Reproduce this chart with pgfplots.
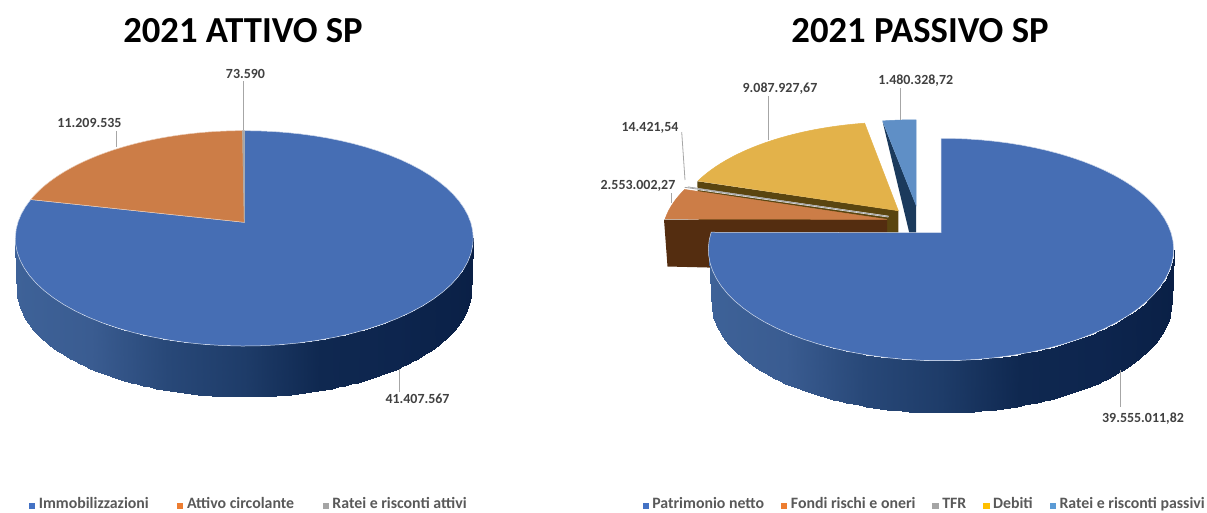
\documentclass[border=0pt]{standalone}
\usepackage{fontspec}
\setmainfont{Carlito}
\usepackage{pgfplots}
\pgfplotsset{compat=1.18}
\definecolor{pBlue}{HTML}{466EB4}
\definecolor{pOrange}{HTML}{CC7D47}
\definecolor{pGray}{HTML}{A5A5A5}
\definecolor{pYellow}{HTML}{E3B24A}
\definecolor{pLight}{HTML}{5F8FC6}
\definecolor{lBlue}{HTML}{4472C4}
\definecolor{lOrange}{HTML}{ED7D31}
\definecolor{lYellow}{HTML}{FFC000}
\definecolor{lLight}{HTML}{5B9BD5}
\definecolor{fBrown}{HTML}{542D10}
\definecolor{fOlive}{HTML}{5A4510}
\definecolor{fNavy}{HTML}{1B3A5C}
\definecolor{leader}{HTML}{A6A6A6}
\definecolor{lab}{HTML}{404040}
\definecolor{legt}{HTML}{595959}
\pgfplotsset{
  colormap={side}{rgb255=(62,98,152) rgb255=(58,92,145) rgb255=(40,72,120) rgb255=(30,60,105) rgb255=(15,40,80) rgb255=(13,37,78) rgb255=(10,32,70)},
  pie/.style={
    hide axis, scale only axis, clip=false,
    y dir=reverse, view={0}{90},
    ymin=0, ymax=513, zmin=-1, zmax=1,
    height=513bp, colormap name=side,
    legend image code/.code={\fill[##1] (0bp,-2.6bp) rectangle (5.2bp,2.6bp);},
    legend cell align=left,
  },
}
% slice: colour, start angle, end angle, apex x, apex y, a, b, k (border colour via #9)
\newcommand{\slice}[9]{%
  \addplot[forget plot, fill=#1, draw=#9, line width=0.5bp, domain=#2:#3, samples=70]
   ({#4+#7*sin(x)/(1+#8*cos(x))},{#5-#6*cos(x)/(1+#8*cos(x))}) -- (axis cs:#4,#5) -- cycle;}
% rim: cx, top cy, top rx, top ry, bottom cy, bottom rx, bottom ry
\newcommand{\rim}[7]{%
  \addplot3[forget plot, surf, shader=interp, domain=0:180, y domain=0:1, samples=100, samples y=2, point meta=x]
   ({#1+(#3+(#6-#3)*y)*cos(x)},{(#2+(#5-#2)*y)+(#4+(#7-#4)*y)*sin(x)},{0});}
\newcommand{\lbl}[3]{\node[font=\fontsize{14}{16}\selectfont\bfseries, text=lab, inner sep=0pt] at (axis cs:#1,#2) {#3};}
\newcommand{\ttl}[3]{\node[font=\fontsize{36.8}{40}\selectfont\bfseries, text=black, inner sep=0pt] at (axis cs:#1,#2) {#3};}
\newcommand{\leaderline}[4]{\addplot[forget plot, leader, line width=0.8bp] coordinates {(#1,#2) (#3,#4)};}
% values (millions)
\pgfmathsetmacro\Lt{41.407567+11.209535+0.07359}
\pgfmathsetmacro\La{360*41.407567/\Lt}
\pgfmathsetmacro\Lb{\La+360*11.209535/\Lt}
\pgfmathsetmacro\Rt{39.55501182+2.55300227+0.01442154+9.08792767+1.48032872}
\pgfmathsetmacro\Ra{360*39.55501182/\Rt}
\pgfmathsetmacro\Rb{\Ra+360*2.55300227/\Rt}
\pgfmathsetmacro\Rc{\Rb+360*0.01442154/\Rt}
\pgfmathsetmacro\Rd{\Rc+360*9.08792767/\Rt}
\begin{document}
\begin{tikzpicture}
\useasboundingbox (0,0) rectangle (1207bp,513bp);
\begin{axis}[pie, at={(0,0)}, anchor=south west, width=603.5bp, xmin=0, xmax=603.5,
  point meta min=15, point meta max=473,
  legend style={at={(axis cs:29,506)}, anchor=west, draw=none, fill=none,
    font=\fontsize{15.9}{17}\selectfont\bfseries\color{legt}, legend columns=-1,
    inner sep=0pt, outer sep=0pt,
    nodes={inner sep=0pt, text height=0.72em, text depth=0.2em},
    /tikz/every odd column/.append style={column sep=4.2bp},
    /tikz/every even column/.append style={column sep=28.5bp}}]
  \addlegendimage{color=lBlue}\addlegendentry{Immobilizzazioni}
  \addlegendimage{color=lOrange}\addlegendentry{Attivo circolante}
  \addlegendimage{color=pGray}\addlegendentry{Ratei e risconti attivi}
  \rim{244}{238.2}{229}{107.5}{290}{227}{107}
  \slice{pBlue}{0}{\La}{244.3}{222.3}{105.3}{226.4}{0.149}{white!75!pBlue}
  \slice{pOrange}{\Lb}{\La}{244.3}{222.3}{105.3}{226.4}{0.149}{white!60!pOrange}
  \slice{pGray}{\Lb}{360}{244.3}{222.3}{105.3}{226.4}{0.149}{pGray}
  \leaderline{243.5}{81}{243.5}{130}
  \leaderline{116.7}{131}{116.7}{147}
  \leaderline{399.3}{369}{399.3}{392}
  \ttl{243}{31}{2021 ATTIVO SP}
  \lbl{245.5}{74}{73.590}
  \lbl{89.5}{123}{11.209.535}
  \lbl{417.5}{398.7}{41.407.567}
\end{axis}
\begin{axis}[pie, at={(603.5bp,0)}, anchor=south west, width=603.5bp, xmin=603.5, xmax=1207,
  point meta min=708, point meta max=1175,
  legend style={at={(axis cs:642.5,506)}, anchor=west, draw=none, fill=none,
    font=\fontsize{15.9}{17}\selectfont\bfseries\color{legt}, legend columns=-1,
    inner sep=0pt, outer sep=0pt,
    nodes={inner sep=0pt, text height=0.72em, text depth=0.2em},
    /tikz/every odd column/.append style={column sep=4.2bp},
    /tikz/every even column/.append style={column sep=17bp}}]
  \addlegendimage{color=lBlue}\addlegendentry{Patrimonio netto}
  \addlegendimage{color=lOrange}\addlegendentry{Fondi rischi e oneri}
  \addlegendimage{color=pGray}\addlegendentry{TFR}
  \addlegendimage{color=lYellow}\addlegendentry{Debiti}
  \addlegendimage{color=lLight}\addlegendentry{Ratei e risconti passivi}
  % cut faces
  \addplot[forget plot, fill=fNavy, draw=none] coordinates {(882.7,122) (916,205) (916,240) (911,240)} -- cycle;
  \addplot[forget plot, fill=fOlive, draw=none] coordinates {(697.3,181.3) (898.3,210.7) (898.3,240) (699,233)} -- cycle;
  \slice{pLight}{\Rd}{360}{916}{205}{98}{218}{0.15}{pLight}
  \slice{pYellow}{\Rc}{\Rd}{898.3}{210.7}{102}{220}{0.15}{pYellow}
  \addplot[forget plot, fill=fBrown, draw=none] coordinates {(664,219.5) (887,219.5) (887,272) (667.5,266.5)} -- cycle;
  \addplot[forget plot, white, line width=1.6bp] coordinates {(684.7,187.3) (888.5,216.6)};
  \slice{pGray}{\Rb}{\Rc}{888.5}{216.6}{102}{220}{0.15}{pGray}
  \addplot[forget plot, pGray, line width=0.8bp] coordinates {(684.7,187.3) (888.5,216.6)};
  \slice{pOrange}{\Ra}{\Rb}{887}{219.4}{103}{222}{0.15}{pOrange}
  \rim{941.5}{249.5}{232.5}{111.2}{302.7}{230}{110}
  \slice{pBlue}{0}{\Ra}{941}{232.7}{108.7}{230}{0.151}{white!75!pBlue}
  \leaderline{900.7}{88}{900.7}{120}
  \leaderline{768.3}{96}{768.3}{140}
  \leaderline{681.7}{132}{685}{180}
  \leaderline{671.7}{193}{671.7}{203}
  \leaderline{1120.7}{370}{1120.7}{407}
  \ttl{920}{31}{2021 PASSIVO SP}
  \lbl{915.8}{81}{1.480.328,72}
  \lbl{780}{89}{9.087.927,67}
  \lbl{650}{128.3}{14.421,54}
  \lbl{638}{186}{2.553.002,27}
  \lbl{1143}{419}{39.555.011,82}
\end{axis}
\end{tikzpicture}
\end{document}
